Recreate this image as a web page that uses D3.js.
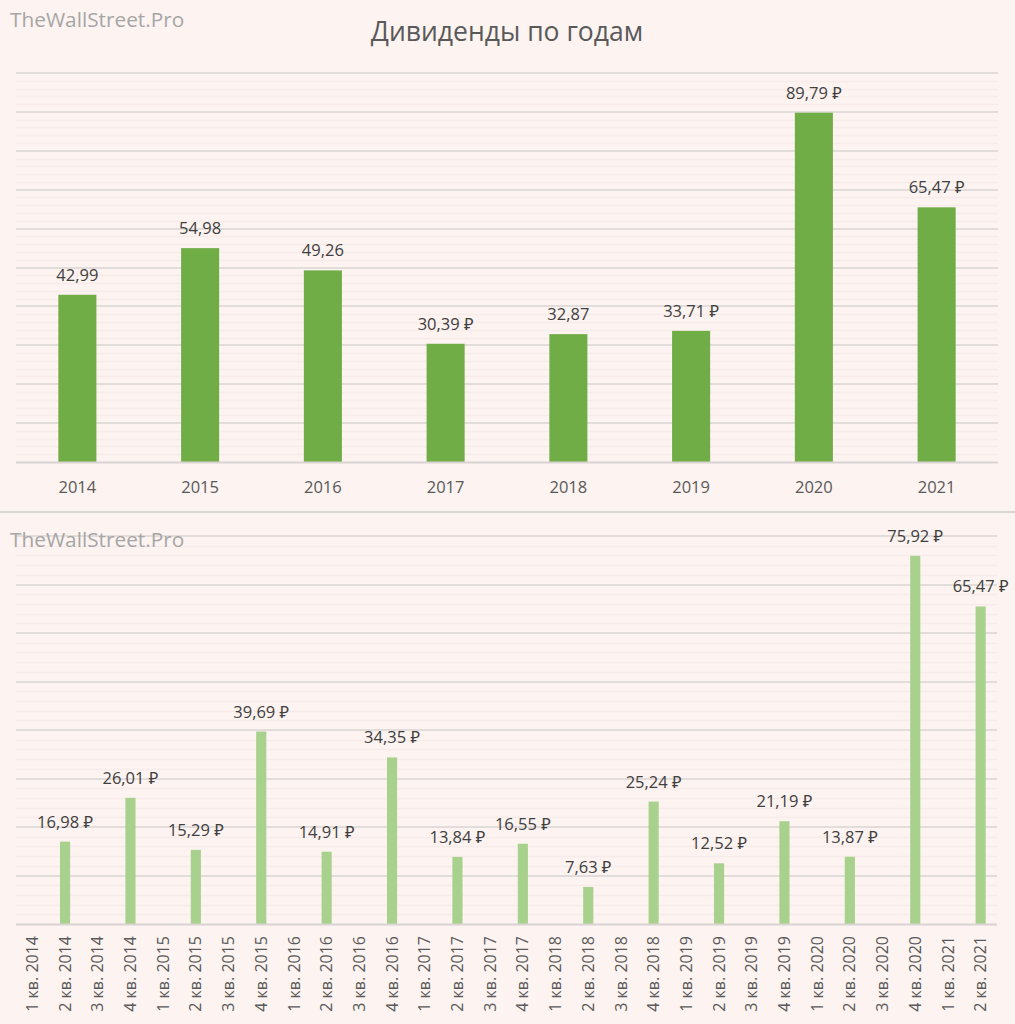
<!DOCTYPE html>
<html><head><meta charset="utf-8">
<script src="https://cdn.jsdelivr.net/npm/d3@7"></script>
<style>
html,body{margin:0;padding:0;background:#fdf3f0;}
svg{display:block;font-family:"Open Sans","Noto Sans",sans-serif;}
</style></head>
<body>
<svg id="c" width="1015" height="1024"></svg>
<script>
const years = ["2014","2015","2016","2017","2018","2019","2020","2021"];
const yearValues = [42.99, 54.98, 49.26, 30.39, 32.87, 33.71, 89.79, 65.47];
const yearLabels = ["42,99","54,98","49,26","30,39 ₽","32,87","33,71 ₽","89,79 ₽","65,47 ₽"];

const quarters = ["1 кв. 2014","2 кв. 2014","3 кв. 2014","4 кв. 2014",
"1 кв. 2015","2 кв. 2015","3 кв. 2015","4 кв. 2015",
"1 кв. 2016","2 кв. 2016","3 кв. 2016","4 кв. 2016",
"1 кв. 2017","2 кв. 2017","3 кв. 2017","4 кв. 2017",
"1 кв. 2018","2 кв. 2018","3 кв. 2018","4 кв. 2018",
"1 кв. 2019","2 кв. 2019","3 кв. 2019","4 кв. 2019",
"1 кв. 2020","2 кв. 2020","3 кв. 2020","4 кв. 2020",
"1 кв. 2021","2 кв. 2021"];
const quarterValues = [null,16.98,null,26.01, null,15.29,null,39.69, null,14.91,null,34.35,
 null,13.84,null,16.55, null,7.63,null,25.24, null,12.52,null,21.19, null,13.87,null,75.92, null,65.47];

const title = "Дивиденды по годам";
const watermark = "TheWallStreet.Pro";

const fmt = v => d3.format(".2f")(v).replace(".", ",") + " ₽";

const svg = d3.select("#c");
svg.append("rect").attr("width",1015).attr("height",1024).attr("fill","#fdf3f0");

function grid(g, y, max, x0, x1) {
  const minor = d3.range(0, max + 0.001, 2);
  g.selectAll(".mn").data(minor.filter(v => v % 10 !== 0)).join("line")
    .attr("x1", x0).attr("x2", x1).attr("y1", d => Math.round(y(d))+0.5).attr("y2", d => Math.round(y(d))+0.5)
    .attr("stroke", "#f7ecea").attr("stroke-width", 1.5);
  g.selectAll(".mj").data(d3.range(10, max + 0.001, 10)).join("line")
    .attr("x1", x0).attr("x2", x1).attr("y1", d => Math.round(y(d))).attr("y2", d => Math.round(y(d)))
    .attr("stroke", "#e2dcda").attr("stroke-width", 2);
}

// ---------- top chart ----------
{
  const x = d3.scaleBand().domain(years).range([16, 998]).paddingInner(0.69).paddingOuter(0.345);
  const y = d3.scaleLinear().domain([0, 100]).range([462, 73]);
  const g = svg.append("g");
  grid(g, y, 100, 16, 998);
  g.selectAll(".bar").data(years).join("rect")
    .attr("x", d => x(d)).attr("width", x.bandwidth())
    .attr("y", (d,i) => y(yearValues[i])).attr("height", (d,i) => y(0) - y(yearValues[i]))
    .attr("fill", "#70ad47");
  g.append("line").attr("x1",16).attr("x2",998).attr("y1",462.5).attr("y2",462.5).attr("stroke","#d9d4d2").attr("stroke-width",2);
  g.selectAll(".lbl").data(years).join("text")
    .attr("x", d => x(d) + x.bandwidth()/2).attr("y", (d,i) => y(yearValues[i]) - 14)
    .attr("text-anchor","middle").attr("font-size",16.5).attr("fill","#404040")
    .text((d,i) => yearLabels[i]);
  const ax = g.append("g").attr("transform","translate(0,462)")
    .call(d3.axisBottom(x).tickSize(0).tickPadding(19));
  ax.select(".domain").remove();
  ax.selectAll("text").attr("font-size",16.5).attr("fill","#595959").attr("font-family","'Open Sans','Noto Sans',sans-serif");
  svg.append("text").attr("x",507).attr("y",41).attr("text-anchor","middle")
    .attr("font-size",26.5).attr("fill","#595959").text(title);
  svg.append("text").attr("x",10).attr("y",27).attr("font-size",20.8).attr("fill","#a6a6a6").text(watermark);
}

// divider
svg.append("line").attr("x1",0).attr("x2",1015).attr("y1",512).attr("y2",512).attr("stroke","#d9d5d3").attr("stroke-width",2);

// ---------- bottom chart ----------
{
  const x = d3.scaleBand().domain(quarters).range([16, 997]).paddingInner(0.69).paddingOuter(0.345);
  const y = d3.scaleLinear().domain([0, 80]).range([924, 536]);
  const g = svg.append("g");
  grid(g, y, 80, 16, 997);
  const data = quarters.map((q,i) => ({q, v: quarterValues[i]})).filter(d => d.v != null);
  g.selectAll(".bar").data(data).join("rect")
    .attr("x", d => x(d.q)).attr("width", x.bandwidth())
    .attr("y", d => y(d.v)).attr("height", d => y(0) - y(d.v))
    .attr("fill", "#a9d18e");
  g.append("line").attr("x1",16).attr("x2",997).attr("y1",924.5).attr("y2",924.5).attr("stroke","#d9d4d2").attr("stroke-width",2);
  g.selectAll(".lbl").data(data).join("text")
    .attr("x", d => Math.min(x(d.q) + x.bandwidth()/2, 983)).attr("y", d => y(d.v) - 14)
    .attr("text-anchor","middle").attr("font-size",16.5).attr("fill","#404040")
    .text(d => fmt(d.v));
  const ax = g.append("g").attr("transform","translate(0,924)")
    .call(d3.axisBottom(x).tickSize(0));
  ax.select(".domain").remove();
  ax.selectAll("text")
    .attr("transform","rotate(-90)")
    .attr("x",-12).attr("y",0).attr("dy","0.35em")
    .attr("text-anchor","end")
    .attr("font-size",16).attr("fill","#595959").attr("font-family","'Open Sans','Noto Sans',sans-serif");
  svg.append("text").attr("x",10).attr("y",547).attr("font-size",20.8).attr("fill","#a6a6a6").text(watermark);
}
</script>
</body></html>
